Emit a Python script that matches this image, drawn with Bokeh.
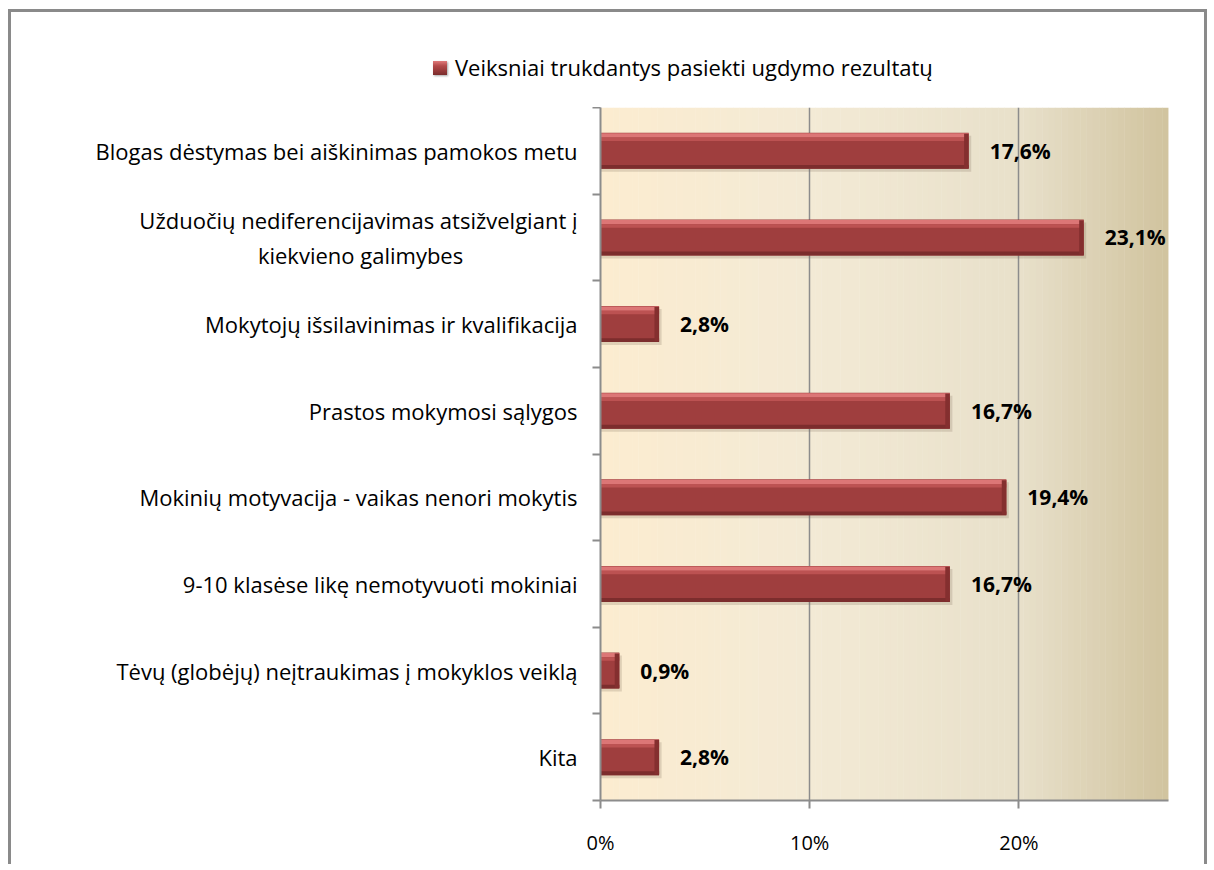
from bokeh.plotting import figure
from bokeh.models import Range1d, FixedTicker, Div
from bokeh.layouts import column
from bokeh.embed import file_html
from bokeh.resources import INLINE
from bokeh.core.properties import value
import numpy as np

# ---- data ----
categories = [
    "Blogas dėstymas bei aiškinimas pamokos metu",
    "Užduočių nediferencijavimas atsižvelgiant į\nkiekvieno galimybes" + "\u00a0" * 20,
    "Mokytojų išsilavinimas ir kvalifikacija",
    "Prastos mokymosi sąlygos",
    "Mokinių motyvacija - vaikas nenori mokytis",
    "9-10 klasėse likę nemotyvuoti mokiniai",
    "Tėvų (globėjų) neįtraukimas į mokyklos veiklą",
    "Kita",
]
shares = [17.6, 23.1, 2.8, 16.7, 19.4, 16.7, 0.9, 2.8]
value_labels = ["17,6%", "23,1%", "2,8%", "16,7%", "19,4%", "16,7%", "0,9%", "2,8%"]
x_ticks = [0, 10, 20]
x_tick_labels = ["0%", "10%", "20%"]
series_name = "Veiksniai trukdantys pasiekti ugdymo rezultatų"
x_max = 27.15

FONT = "Open Sans"
BAR = "#9F3E3E"
n = len(categories)
pos = [n - 1 - i for i in range(n)]
bounds = [k - 0.5 for k in range(n + 1)]

# ---------- legend strip (top) ----------
legend_html = (
    '<div style="margin:42px 0 0 422px;height:28px;display:flex;align-items:center;'
    'white-space:nowrap;font-family:\'Open Sans\';font-size:22px;color:#000;">'
    '<span style="display:inline-block;width:14px;height:14px;margin-right:8px;'
    'background:linear-gradient(180deg,#e07a7a 0%,#b34a4a 35%,#9F3E3E 60%,#7a2c2c 100%);'
    'box-shadow:1px 1px 2px rgba(0,0,0,0.35);"></span>'
    + series_name + '</div>'
)
lg = Div(text=legend_html, width=1193, height=95, margin=0,
         styles={"background-color": "white"})

# ---------- main chart ----------
p = figure(frame_width=568, frame_height=693,
           min_border_left=589, min_border_right=36,
           min_border_top=0, min_border_bottom=64,
           x_range=Range1d(0, x_max), y_range=Range1d(-0.5, n - 0.5),
           output_backend="svg", toolbar_location=None,
           border_fill_color="white", outline_line_color=None)

# background gradient (decoration)
stops_f = [0.0, 0.37, 0.74, 1.0]
stops_c = [(252, 236, 208), (243, 234, 213), (232, 224, 202), (209, 195, 158)]
nstrip = 90
edges = np.linspace(0, x_max, nstrip + 1)
fr = (edges[:-1] + edges[1:]) / 2 / x_max
cols = []
for f in fr:
    rgb = [int(round(np.interp(f, stops_f, [c[k] for c in stops_c]))) for k in range(3)]
    cols.append("#%02x%02x%02x" % tuple(rgb))
p.quad(left=edges[:-1], right=edges[1:] + 0.02, bottom=-0.5, top=n - 0.5,
       fill_color=cols, line_color=None, level="image")

# bars
h = 0.415
p.hbar(y=[y - 0.035 for y in pos], left=0, right=[s + 0.12 for s in shares], height=h,
       fill_color="#7a6a55", fill_alpha=0.22, line_color=None)
p.hbar(y=pos, left=0, right=shares, height=h, fill_color=BAR, line_color=None)
p.hbar(y=[y + h / 2 - 0.03 for y in pos], left=0, right=shares, height=0.05,
       fill_color="#DC7676", line_color=None)
p.hbar(y=[y + h / 2 - 0.075 for y in pos], left=0, right=shares, height=0.04,
       fill_color="#BC5252", line_color=None)
p.hbar(y=[y - h / 2 + 0.022 for y in pos], left=0, right=shares, height=0.044,
       fill_color="#7C2D2D", line_color=None)
p.hbar(y=pos, left=[s - 0.22 for s in shares], right=shares, height=h - 0.02,
       fill_color="#842F2F", line_color=None)

p.text(x=shares, y=pos, text=value_labels, x_offset=21, text_baseline="middle",
       text_font=value(FONT), text_font_style="bold", text_font_size="21px",
       text_color="black")

# axes
xa = p.xaxis[0]
xa.ticker = FixedTicker(ticks=x_ticks, minor_ticks=[])
xa.major_label_overrides = dict(zip(x_ticks, x_tick_labels))
xa.axis_line_color = "#8c8c8c"
xa.axis_line_width = 2
xa.major_tick_line_color = "#8c8c8c"
xa.major_tick_line_width = 2
xa.major_tick_out = 8
xa.major_tick_in = 0
xa.major_label_standoff = 20
xa.major_label_text_font = FONT
xa.major_label_text_font_size = "20px"
xa.major_label_text_color = "black"

ya = p.yaxis[0]
ya.ticker = FixedTicker(ticks=pos, minor_ticks=bounds)
ya.major_label_overrides = dict(zip(pos, categories))
ya.axis_line_color = "#8c8c8c"
ya.axis_line_width = 2
ya.major_tick_line_color = None
ya.major_tick_out = 0
ya.major_tick_in = 0
ya.minor_tick_line_color = "#8c8c8c"
ya.minor_tick_line_width = 2
ya.minor_tick_out = 8
ya.minor_tick_in = 0
ya.major_label_standoff = 15
ya.major_label_text_font = FONT
ya.major_label_text_font_size = "22px"
ya.major_label_text_color = "black"
ya.major_label_text_line_height = 1.15

p.xgrid.ticker = FixedTicker(ticks=x_ticks)
p.xgrid.grid_line_color = "#8c8c8c"
p.xgrid.grid_line_width = 1.5
p.ygrid.grid_line_color = None

layout = column(lg, p, spacing=0)
layout.styles = {"margin-left": "8px", "margin-top": "9px",
                 "border-left": "3px solid #8a8a8a",
                 "border-top": "3px solid #8a8a8a",
                 "border-right": "3px solid #8a8a8a"}

open("out.html", "w").write(file_html(layout, INLINE))
